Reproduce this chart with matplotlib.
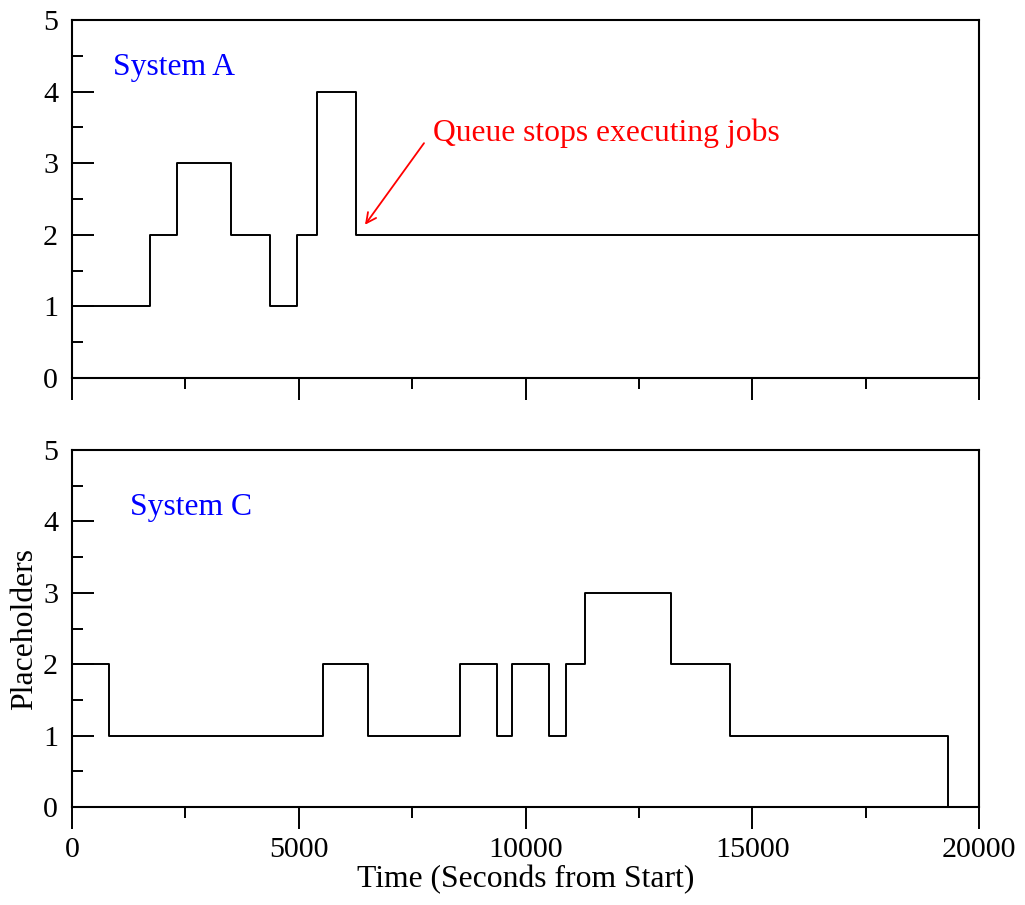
import matplotlib
matplotlib.use("Agg")
import matplotlib.pyplot as plt
from matplotlib.ticker import MultipleLocator

plt.rcParams['font.family'] = ['Liberation Serif', 'DejaVu Serif']

# System A: step changes (time, value)
a_times = [0, 1720, 2310, 3505, 4365, 4955, 5405, 6255, 20000]
a_values = [1, 2, 3, 2, 1, 2, 4, 2, 2]

# System C: step changes (time, value)
c_times = [0, 825, 5530, 6520, 8555, 9370, 9695, 10525, 10895, 11310, 13200, 14510, 19315, 20000]
c_values = [2, 1, 2, 1, 2, 1, 2, 1, 2, 3, 2, 1, 0, 0]

x_ticks = [0, 5000, 10000, 15000, 20000]
y_ticks = [0, 1, 2, 3, 4, 5]

fs_tick = 21.6
fs = 22.8
fig = plt.figure(figsize=(10.25, 9.05), dpi=100)
ax1 = fig.add_axes([72/1025, 1-378/905, 907/1025, 358/905])
ax2 = fig.add_axes([72/1025, 1-807/905, 907/1025, 357/905])

for ax, t, v in ((ax1, a_times, a_values), (ax2, c_times, c_values)):
    ax.step(t, v, where='post', color='black', lw=1.4, clip_on=False, zorder=3)
    ax.set_xlim(0, 20000)
    ax.set_ylim(0, 5)
    ax.set_xticks(x_ticks)
    ax.set_yticks(y_ticks)
    ax.xaxis.set_minor_locator(MultipleLocator(2500))
    ax.yaxis.set_minor_locator(MultipleLocator(0.5))
    ax.tick_params(axis='x', which='major', direction='out', length=15.8, width=1.4,
                   labelsize=fs_tick, pad=6, top=False)
    ax.tick_params(axis='x', which='minor', direction='out', length=7.9, width=1.4, top=False)
    ax.tick_params(axis='y', which='major', direction='in', length=15.8, width=1.4,
                   labelsize=fs_tick, pad=10, right=False)
    ax.tick_params(axis='y', which='minor', direction='in', length=7.9, width=1.4, right=False)
    for s in ax.spines.values():
        s.set_linewidth(1.5)

ax1.tick_params(axis='x', labelbottom=False)

ax1.text(904, 4.33, 'System A', color='blue', fontsize=fs, va='center', ha='left')
ax2.text(1279, 4.19, 'System C', color='blue', fontsize=fs, va='center', ha='left')

ax1.text(7960, 3.42, 'Queue stops executing jobs', color='red', fontsize=fs,
         va='center', ha='left')
ax1.annotate('', xy=(6461, 2.14), xytext=(7762, 3.28),
             arrowprops=dict(arrowstyle='->', color='red', lw=1.3,
                             shrinkA=0, shrinkB=0, mutation_scale=18))

ax2.set_xlabel('Time (Seconds from Start)', fontsize=fs, labelpad=1)
ax2.set_ylabel('Placeholders', fontsize=fs, labelpad=3)

fig.savefig('out.png', dpi=100)
